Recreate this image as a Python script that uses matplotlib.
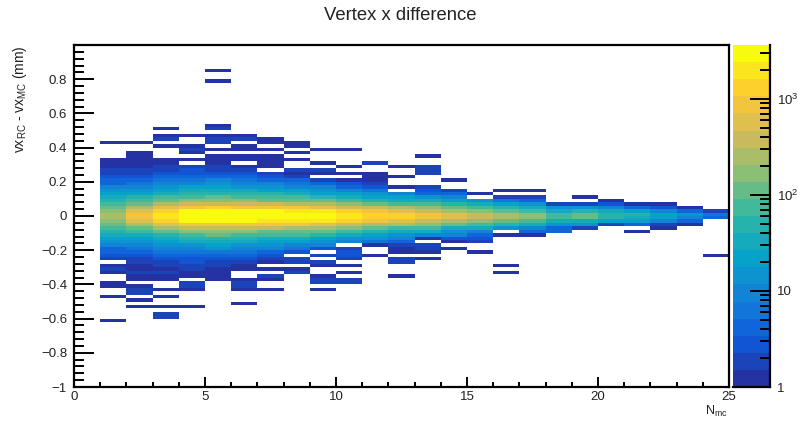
import numpy as np
import matplotlib
matplotlib.use('Agg')
import matplotlib.pyplot as plt
from matplotlib.colors import LinearSegmentedColormap, BoundaryNorm

plt.rcParams['font.family'] = ['Liberation Sans', 'DejaVu Sans']
plt.rcParams['mathtext.fontset'] = 'custom'
plt.rcParams['mathtext.rm'] = 'Liberation Sans'
plt.rcParams['mathtext.it'] = 'Liberation Sans'
plt.rcParams['mathtext.default'] = 'regular'

# counts per y bin (0.02 mm wide), from y = 0 going outwards, one row per N_mc bin
counts_up = [
    [240, 170, 115, 75, 48, 30, 19, 12, 8, 5, 4, 3, 2, 2, 1, 1, 1, 0, 0, 0, 0, 1],
    [800, 500, 230, 120, 70, 42, 26, 16, 10, 7, 5, 3, 2, 2, 1, 1, 1, 1, 1, 0, 0, 1],
    [2100, 1250, 520, 220, 110, 62, 36, 22, 14, 9, 6, 4, 3, 2, 2, 1, 1, 0, 0, 0, 1, 0, 2, 1, 0, 1],
    [3300, 2500, 950, 380, 160, 90, 50, 30, 18, 11, 7, 5, 3, 3, 2, 0, 1, 0, 1, 2, 1, 0, 0, 1],
    [3600, 2600, 1100, 420, 170, 100, 55, 32, 20, 12, 8, 5, 3, 2, 2, 1, 1, 1, 0, 1, 0, 2, 2, 1, 0, 2, 1,
     0, 0, 0, 0, 0, 0, 0, 0, 0, 0, 0, 0, 1, 0, 0, 1],
    [3500, 2500, 1050, 390, 155, 90, 50, 28, 17, 10, 6, 4, 3, 2, 1, 0, 1, 1, 0, 1, 1, 0, 2, 1],
    [3300, 2450, 950, 350, 135, 78, 42, 24, 14, 8, 5, 3, 2, 0, 1, 1, 1, 1, 0, 1, 0, 1, 1],
    [3000, 2200, 800, 300, 115, 65, 35, 19, 11, 6, 4, 2, 1, 2, 0, 0, 1, 0, 1, 0, 1, 1],
    [2500, 1700, 620, 230, 95, 50, 26, 14, 8, 5, 2, 0, 1, 2, 0, 1, 0, 0, 0, 1],
    [2000, 1200, 450, 170, 75, 38, 18, 10, 5, 3, 1, 0, 1, 0, 1, 0, 0, 0, 0, 1],
    [1600, 850, 320, 125, 55, 26, 13, 7, 3, 2, 1, 1, 1, 0, 0, 2],
    [1200, 600, 230, 90, 40, 18, 8, 0, 1, 0, 0, 1, 0, 0, 1],
    [850, 400, 155, 65, 28, 12, 5, 3, 2, 0, 0, 0, 2, 2, 2, 0, 0, 1],
    [560, 260, 100, 42, 18, 8, 4, 2, 0, 0, 1],
    [380, 170, 70, 28, 12, 0, 1],
    [250, 110, 45, 18, 6, 2, 0, 1],
    [170, 75, 30, 12, 5, 2, 0, 1],
    [85, 38, 12, 2],
    [100, 42, 14, 2, 0, 1],
    [60, 28, 8, 3, 1],
    [45, 20, 5, 1],
    [25, 10, 3, 1],
    [12, 5, 1],
    [6, 2],
]
counts_down = [
    [235, 165, 110, 72, 46, 29, 18, 12, 8, 5, 4, 3, 2, 0, 1, 2, 1, 0, 0, 1, 1, 0, 0, 1, 0, 0, 0, 0, 0, 0, 1],
    [770, 480, 220, 115, 68, 40, 25, 15, 10, 7, 5, 3, 2, 2, 1, 1, 2, 1, 1, 0, 1, 2, 2, 0, 1, 0, 1],
    [2000, 1200, 500, 210, 105, 60, 34, 21, 13, 9, 6, 4, 3, 2, 2, 1, 2, 1, 1, 0, 0, 1, 0, 1, 0, 0, 1, 0, 2, 2],
    [3250, 2450, 920, 365, 155, 88, 48, 29, 17, 11, 7, 5, 3, 3, 2, 2, 1, 1, 0, 2, 2, 1, 0, 0, 0, 0, 1],
    [3550, 2550, 1060, 400, 165, 96, 52, 30, 19, 12, 7, 5, 3, 2, 2, 1, 1, 1, 1],
    [3450, 2450, 1020, 375, 150, 87, 48, 27, 16, 10, 6, 4, 3, 2, 1, 1, 0, 0, 1, 2, 2, 1, 0, 0, 0, 1],
    [3250, 2400, 920, 340, 130, 75, 40, 23, 13, 8, 5, 3, 2, 1, 0, 1, 0, 2, 1, 0, 0, 1],
    [2950, 2100, 770, 290, 110, 62, 33, 18, 10, 6, 3, 0, 2, 2, 0, 1, 2],
    [2450, 1650, 600, 220, 92, 48, 25, 14, 8, 3, 0, 2, 0, 2, 1, 0, 0, 1, 2, 2, 0, 1],
    [1950, 1150, 430, 165, 72, 36, 17, 9, 0, 2, 3, 3, 2, 0, 1, 0, 1, 0, 2, 2],
    [1550, 820, 310, 120, 52, 25, 12, 6, 1, 0, 0, 1],
    [1150, 580, 220, 86, 38, 17, 8, 4, 2, 1, 1, 0, 2, 2, 0, 0, 0, 1],
    [830, 380, 150, 62, 27, 11, 1, 0, 2, 2, 1, 0, 1],
    [540, 250, 96, 40, 17, 8, 3, 1, 0, 1],
    [370, 165, 66, 27, 11, 5, 3, 2, 0, 0, 1],
    [240, 105, 43, 17, 0, 1, 0, 0, 0, 0, 0, 0, 0, 0, 1, 0, 1],
    [165, 72, 28, 11, 5, 1],
    [80, 36, 12, 5, 4],
    [95, 40, 12, 2],
    [55, 25, 2],
    [40, 18, 5, 0, 1],
    [22, 9, 2, 1],
    [10, 4, 1],
    [5, 0, 0, 0, 0, 0, 0, 0, 0, 0, 0, 1],
]

y_ticks = [-1, -0.8, -0.6, -0.4, -0.2, 0, 0.2, 0.4, 0.6, 0.8]
y_labels = ['\u22121', '\u22120.8', '\u22120.6', '\u22120.4', '\u22120.2', '0', '0.2', '0.4', '0.6', '0.8']
x_ticks = [0, 5, 10, 15, 20, 25]
z_ticks = [1, 10, 100, 1000]
z_labels = ['1', '10', '$10^{2}$', '$10^{3}$']

# ROOT kBird palette (first stop a bit bluer to match the picture), 20 contour levels
bird = [(0.14, 0.20, 0.63), (0.0592, 0.3599, 0.8684), (0.0780, 0.5041, 0.8385),
        (0.0232, 0.6419, 0.7914), (0.1802, 0.7178, 0.6425), (0.5301, 0.7492, 0.4662),
        (0.8186, 0.7328, 0.3499), (0.9956, 0.7862, 0.1968), (0.9764, 0.9832, 0.0539)]
cmap = LinearSegmentedColormap.from_list('bird', bird, N=20)
levels = np.geomspace(1, 3650, 21)
norm = BoundaryNorm(levels, 20)

# fill the 2D histogram
x_edges = np.arange(1, 26)
y_edges = np.linspace(-1, 1, 101)
hist = np.zeros((100, 24))
for i in range(24):
    for k, c in enumerate(counts_up[i]):
        hist[50 + k, i] = c
    for k, c in enumerate(counts_down[i]):
        hist[49 - k, i] = c
hist = np.ma.masked_where(hist == 0, hist)

W, H = 798, 421
fig = plt.figure(figsize=(W / 100, H / 100), dpi=100)
ax = fig.add_axes([74 / W, (H - 387) / H, 655 / W, 342 / H])
ax.pcolormesh(x_edges, y_edges, hist, cmap=cmap, norm=norm, shading='flat', rasterized=True)
ax.set_xlim(0, 25)
ax.set_ylim(-1, 1)
ax.set_xticks(x_ticks)
ax.set_xticks(np.arange(0, 26), minor=True)
ax.set_yticks(y_ticks)
ax.set_yticks(np.arange(-50, 50) * 0.04, minor=True)
ax.set_ylim(-1, 1)
ax.set_yticklabels(y_labels)
ax.tick_params(axis='y', which='major', direction='in', length=14.4, width=1.4, labelsize=9.5, pad=5, colors='black', labelcolor='#222222')
ax.tick_params(axis='y', which='minor', direction='in', length=7.2, width=1.4)
ax.tick_params(axis='x', which='major', direction='in', length=7.5, width=1.4, labelsize=9.5, pad=3, labelcolor='#222222')
ax.tick_params(axis='x', which='minor', direction='in', length=3.8, width=1.4)
for s in ax.spines.values():
    s.set_linewidth(1.6)

fig.text(400 / W, 1 - 16 / H, 'Vertex x difference', ha='center', va='center', fontsize=13.3, color='#222222')
fig.text(716 / W, 1 - 411 / H, 'N$_{mc}$', ha='center', va='center', fontsize=9, color='#222222')
fig.text(20 / W, 1 - 99 / H, 'vx$_{RC}$ - vx$_{MC}$ (mm)', ha='center', va='center', rotation=90, fontsize=10, color='#222222')

# colour bar
cax = fig.add_axes([733 / W, (H - 387) / H, 37 / W, 342 / H])
cax.pcolormesh([0, 1], levels, np.sqrt(levels[:-1] * levels[1:]).reshape(-1, 1), cmap=cmap, norm=norm)
cax.set_yscale('log')
cax.set_ylim(1, 3650)
cax.set_xlim(0, 1)
cax.set_xticks([])
cax.yaxis.tick_right()
cax.set_yticks(z_ticks)
cax.set_yticklabels(z_labels)
cax.set_yticks([m * 10 ** d for d in range(4) for m in range(2, 10) if m * 10 ** d < 3650], minor=True)
cax.set_yticklabels([], minor=True)
cax.tick_params(axis='y', which='major', direction='in', length=14.4, width=1.4, labelsize=9.5, pad=5, labelcolor='#222222')
cax.tick_params(axis='y', which='minor', direction='in', length=7.2, width=1.4)
cax.spines['top'].set_visible(False)
cax.spines['left'].set_visible(False)
cax.spines['right'].set_linewidth(1.6)
cax.spines['bottom'].set_linewidth(1.6)

fig.savefig('out.png', dpi=100)
